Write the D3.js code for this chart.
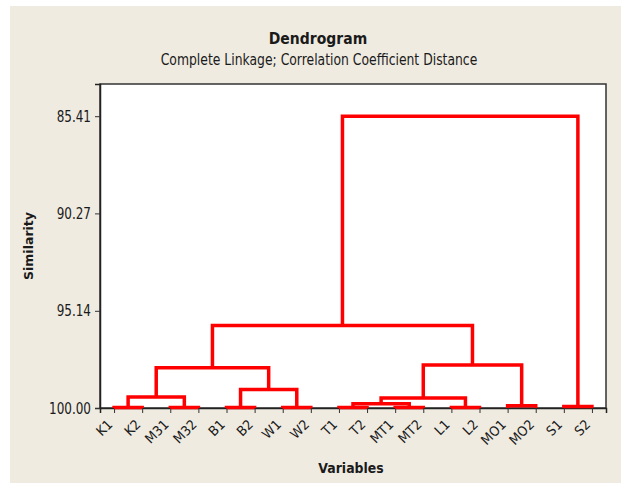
<!DOCTYPE html>
<html>
<head>
<meta charset="utf-8">
<script src="https://cdn.jsdelivr.net/npm/d3@7"></script>
<style>
  body { margin: 0; background: #fff; }
  text { font-family: "DejaVu Sans", sans-serif; fill: #1a1a1a; }
</style>
</head>
<body>
<div id="chart"></div>
<script>
// Leaves of the dendrogram, in drawing order.
var leaves = ['K1', 'K2', 'M31', 'M32', 'B1', 'B2', 'W1', 'W2', 'T1', 'T2',
    'MT1', 'MT2', 'L1', 'L2', 'MO1', 'MO2', 'S1', 'S2'];

// Merge steps: cluster 'c' + i joins mergeLeft[i] and mergeRight[i] at mergeSimilarity[i].
var mergeLeft = ['K1', 'M31', 'B1', 'W1', 'T1', 'MT1', 'L1', 'S1', 'MO1',
    'c4', 'c9', 'c0', 'c2', 'c11', 'c10', 'c13', 'c15'];
var mergeRight = ['K2', 'M32', 'B2', 'W2', 'T2', 'MT2', 'L2', 'S2', 'MO2',
    'c5', 'c6', 'c1', 'c3', 'c12', 'c8', 'c14', 'c7'];
var mergeSimilarity = [99.98, 99.98, 99.98, 99.98, 99.97, 99.97, 99.97, 99.93, 99.89,
    99.79, 99.50, 99.45, 99.07, 97.99, 97.85, 95.87, 85.41];

// Y axis tick labels.
var yTicks = [85.41, 90.27, 95.14, 100.00];

var W = 621, H = 484;
var plot = { left: 100, right: 606, top: 84, bottom: 408 };

var svg = d3.select('#chart').append('svg')
    .attr('width', W).attr('height', H);

// Beige panel (the picture has a thin white strip on the left and top).
svg.append('rect')
    .attr('x', 10).attr('y', 6)
    .attr('width', W - 10).attr('height', H - 7)
    .attr('fill', '#efebe1');

// Plot area.
svg.append('rect')
    .attr('x', plot.left).attr('y', plot.top)
    .attr('width', plot.right - plot.left).attr('height', plot.bottom - plot.top)
    .attr('fill', '#fff')
    .attr('stroke', '#333').attr('stroke-width', 1.5);

var x = d3.scalePoint()
    .domain(leaves)
    .range([plot.left, plot.right])
    .padding(0.5);

var y = d3.scaleLinear()
    .domain([83.8, 100])
    .range([plot.top, plot.bottom]);

// Y axis (labels stretched a bit vertically, like the source picture).
var yAxis = svg.append('g')
    .attr('transform', 'translate(' + plot.left + ',0)')
    .call(d3.axisLeft(y).tickValues(yTicks).tickFormat(d3.format('.2f')).tickSize(5).tickPadding(4));
yAxis.select('.domain').attr('stroke', '#222').attr('stroke-width', 1.5);
yAxis.selectAll('.tick line').attr('stroke', '#333');
yAxis.selectAll('.tick text')
    .style('font-family', '"DejaVu Sans", sans-serif')
    .style('font-size', '12px')
    .attr('fill', '#1a1a1a')
    .attr('transform', 'scale(1,1.3)');

// X axis.
var xAxis = svg.append('g')
    .attr('transform', 'translate(0,' + plot.bottom + ')')
    .call(d3.axisBottom(x).tickSize(5));
xAxis.select('.domain').attr('stroke', '#222').attr('stroke-width', 1.5);
xAxis.selectAll('.tick line').attr('stroke', '#333');
xAxis.selectAll('.tick text')
    .style('font-family', '"DejaVu Sans", sans-serif')
    .style('font-size', '12px')
    .attr('fill', '#1a1a1a')
    .attr('y', 0).attr('dy', '0.35em')
    .attr('text-anchor', 'end')
    .attr('transform', 'translate(-4.5,14) rotate(-45) scale(1.05,1.12)');

// Build the cluster positions and draw each merge as a bracket.
var pos = {};
leaves.forEach(function(name) { pos[name] = { x: x(name), s: 100 }; });

var links = [];
for (var i = 0; i < mergeLeft.length; i++) {
    var l = pos[mergeLeft[i]], r = pos[mergeRight[i]], s = mergeSimilarity[i];
    links.push({ l: l, r: r, s: s });
    pos['c' + i] = { x: (l.x + r.x) / 2, s: s };
}

svg.append('g').selectAll('path').data(links)
    .enter().append('path')
    .attr('d', function(d) {
        return 'M' + d.l.x + ',' + y(d.l.s) + 'V' + y(d.s) + 'H' + d.r.x + 'V' + y(d.r.s);
    })
    .attr('fill', 'none')
    .attr('stroke', '#ff0000')
    .attr('stroke-width', 3.5)
    .attr('stroke-linejoin', 'miter');

// Titles.
svg.append('text')
    .attr('transform', 'translate(318,44) scale(1,1.1)')
    .attr('text-anchor', 'middle')
    .style('font-weight', 'bold').style('font-size', '14px')
    .text('Dendrogram');

svg.append('text')
    .attr('transform', 'translate(319,65) scale(1,1.25)')
    .attr('text-anchor', 'middle')
    .style('font-size', '12.4px')
    .text('Complete Linkage; Correlation Coefficient Distance');

svg.append('text')
    .attr('transform', 'translate(33,' + ((plot.top + plot.bottom) / 2) + ') rotate(-90)')
    .attr('text-anchor', 'middle')
    .style('font-weight', 'bold').style('font-size', '12.5px')
    .text('Similarity');

svg.append('text')
    .attr('transform', 'translate(' + ((plot.left + plot.right) / 2 - 2) + ',473) scale(1,1.15)')
    .attr('text-anchor', 'middle')
    .style('font-weight', 'bold').style('font-size', '12.5px')
    .text('Variables');
</script>
</body>
</html>
